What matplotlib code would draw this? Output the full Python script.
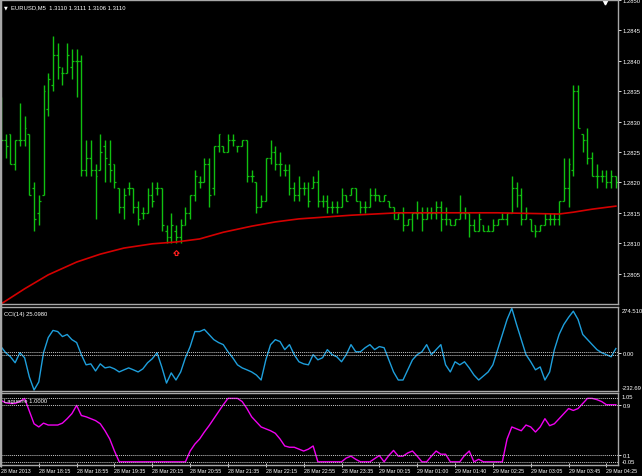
import matplotlib
matplotlib.use('Agg')
import matplotlib.pyplot as plt
from matplotlib.path import Path
import numpy as np

plt.rcParams['font.family'] = ['Liberation Sans', 'DejaVu Sans']

# ---- data (EURUSD M5, bar charts) ----
high = [1.2834, 1.2828, 1.2828, 1.2827, 1.2833, 1.2831, 1.2828, 1.2820, 1.2818, 1.2836,
        1.2838, 1.2844, 1.2843, 1.2839, 1.2843, 1.2842, 1.2842, 1.2841, 1.2827, 1.2827,
        1.2823, 1.2828, 1.2827, 1.2827, 1.2823, 1.2819, 1.2819, 1.2820, 1.2819, 1.2817,
        1.2816, 1.2819, 1.2820, 1.2820, 1.2819, 1.2813, 1.2815, 1.2813, 1.2814, 1.2816,
        1.2818, 1.2822, 1.2821, 1.2824, 1.2824, 1.2826, 1.2828, 1.2826, 1.2828, 1.2828,
        1.2826, 1.2827, 1.2827, 1.2822, 1.2820, 1.2818, 1.2824, 1.2827, 1.2826, 1.2825,
        1.2823, 1.2823, 1.2820, 1.2821, 1.2820, 1.2820, 1.2821, 1.2822, 1.2818, 1.2818,
        1.2817, 1.2817, 1.2819, 1.2818, 1.2819, 1.2819, 1.2817, 1.2817, 1.2819, 1.2819,
        1.2818, 1.2818, 1.2817, 1.2816, 1.2815, 1.2816, 1.2814, 1.2815, 1.2817, 1.2816,
        1.2816, 1.2816, 1.2817, 1.2817, 1.2816, 1.2814, 1.2814, 1.2818, 1.2816, 1.2815,
        1.2814, 1.2815, 1.2813, 1.2813, 1.2814, 1.2814, 1.2815, 1.2815, 1.2821, 1.2820,
        1.2819, 1.2816, 1.2814, 1.2813, 1.2813, 1.2815, 1.2815, 1.2815, 1.2817, 1.2824,
        1.2824, 1.2836, 1.2836, 1.2828, 1.2829, 1.2825, 1.2823, 1.2822, 1.2822, 1.2822,
        1.2821]
low = [1.2827, 1.2824, 1.2823, 1.2822, 1.2826, 1.2826, 1.2818, 1.2812, 1.2813, 1.2818,
       1.2831, 1.2835, 1.2837, 1.2836, 1.2838, 1.2837, 1.2834, 1.2821, 1.2821, 1.2821,
       1.2814, 1.2822, 1.2820, 1.2820, 1.2819, 1.2815, 1.2814, 1.2818, 1.2815, 1.2813,
       1.2814, 1.2815, 1.2816, 1.2818, 1.2812, 1.2810, 1.2810, 1.2810, 1.2810, 1.2813,
       1.2814, 1.2817, 1.2819, 1.2820, 1.2816, 1.2818, 1.2825, 1.2825, 1.2825, 1.2826,
       1.2825, 1.2826, 1.2820, 1.2820, 1.2815, 1.2816, 1.2817, 1.2823, 1.2822, 1.2821,
       1.2821, 1.2818, 1.2817, 1.2817, 1.2818, 1.2816, 1.2819, 1.2816, 1.2816, 1.2815,
       1.2815, 1.2815, 1.2816, 1.2817, 1.2818, 1.2817, 1.2815, 1.2815, 1.2816, 1.2817,
       1.2817, 1.2817, 1.2816, 1.2814, 1.2814, 1.2812, 1.2813, 1.2812, 1.2814, 1.2812,
       1.2814, 1.2814, 1.2814, 1.2812, 1.2813, 1.2813, 1.2813, 1.2814, 1.2814, 1.2811,
       1.2812, 1.2812, 1.2812, 1.2812, 1.2812, 1.2813, 1.2814, 1.2813, 1.2815, 1.2816,
       1.2813, 1.2814, 1.2812, 1.2811, 1.2812, 1.2813, 1.2813, 1.2813, 1.2813, 1.2817,
       1.2816, 1.2821, 1.2829, 1.2825, 1.2823, 1.2821, 1.2819, 1.2820, 1.2819, 1.2819,
       1.2819]
open_ = [1.2833, 1.2827, 1.2828, 1.2823, 1.2827, 1.2827, 1.2828, 1.2819, 1.2815, 1.2818,
         1.2832, 1.2836, 1.2841, 1.2838, 1.2838, 1.2839, 1.2840, 1.2840, 1.2822, 1.2824,
         1.2822, 1.2822, 1.2826, 1.2823, 1.2823, 1.2819, 1.2816, 1.2819, 1.2819, 1.2816,
         1.2815, 1.2815, 1.2818, 1.2819, 1.2819, 1.2812, 1.2811, 1.2812, 1.2811, 1.2813,
         1.2815, 1.2818, 1.2820, 1.2820, 1.2823, 1.2819, 1.2826, 1.2826, 1.2825, 1.2827,
         1.2826, 1.2826, 1.2827, 1.2821, 1.2820, 1.2816, 1.2817, 1.2824, 1.2825, 1.2823,
         1.2822, 1.2822, 1.2819, 1.2818, 1.2819, 1.2819, 1.2819, 1.2820, 1.2817, 1.2817,
         1.2816, 1.2816, 1.2816, 1.2818, 1.2818, 1.2819, 1.2817, 1.2816, 1.2816, 1.2818,
         1.2818, 1.2817, 1.2817, 1.2816, 1.2814, 1.2815, 1.2813, 1.2814, 1.2815, 1.2815,
         1.2814, 1.2815, 1.2815, 1.2816, 1.2814, 1.2814, 1.2813, 1.2814, 1.2815, 1.2815,
         1.2813, 1.2812, 1.2813, 1.2812, 1.2812, 1.2813, 1.2814, 1.2814, 1.2815, 1.2819,
         1.2818, 1.2814, 1.2814, 1.2813, 1.2812, 1.2813, 1.2814, 1.2814, 1.2814, 1.2817,
         1.2819, 1.2822, 1.2835, 1.2828, 1.2827, 1.2824, 1.2821, 1.2821, 1.2821, 1.2820,
         1.2821]
close = [1.2827, 1.2826, 1.2823, 1.2827, 1.2827, 1.2829, 1.2818, 1.2814, 1.2817, 1.2835,
         1.2837, 1.2841, 1.2839, 1.2838, 1.2841, 1.2840, 1.2840, 1.2822, 1.2824, 1.2822,
         1.2821, 1.2825, 1.2824, 1.2822, 1.2820, 1.2816, 1.2818, 1.2819, 1.2816, 1.2814,
         1.2815, 1.2818, 1.2817, 1.2819, 1.2813, 1.2811, 1.2813, 1.2811, 1.2813, 1.2815,
         1.2818, 1.2821, 1.2820, 1.2823, 1.2818, 1.2826, 1.2828, 1.2825, 1.2827, 1.2827,
         1.2826, 1.2827, 1.2821, 1.2821, 1.2816, 1.2817, 1.2824, 1.2825, 1.2823, 1.2823,
         1.2822, 1.2819, 1.2818, 1.2819, 1.2819, 1.2817, 1.2820, 1.2817, 1.2817, 1.2816,
         1.2816, 1.2816, 1.2818, 1.2817, 1.2819, 1.2817, 1.2816, 1.2816, 1.2818, 1.2818,
         1.2817, 1.2818, 1.2816, 1.2814, 1.2815, 1.2813, 1.2814, 1.2815, 1.2815, 1.2814,
         1.2815, 1.2815, 1.2816, 1.2814, 1.2814, 1.2813, 1.2814, 1.2815, 1.2815, 1.2813,
         1.2812, 1.2814, 1.2812, 1.2812, 1.2813, 1.2814, 1.2814, 1.2815, 1.2819, 1.2818,
         1.2814, 1.2815, 1.2812, 1.2812, 1.2813, 1.2814, 1.2814, 1.2814, 1.2817, 1.2819,
         1.2823, 1.2835, 1.2829, 1.2827, 1.2824, 1.2821, 1.2821, 1.2821, 1.2820, 1.2821,
         1.2820]

# moving average (red) read at some bars
ma_bar = [0, 5, 10, 16, 21, 26, 32, 37, 42, 47, 53, 58, 63, 74, 84, 105, 118, 121, 125, 130]
ma_val = [1.28000, 1.28025, 1.28048, 1.28069, 1.28082, 1.28092, 1.28099, 1.28102, 1.28107,
          1.28118, 1.28128, 1.28135, 1.28140, 1.28146, 1.28150, 1.28150, 1.28148, 1.28151,
          1.28156, 1.28161]

arrow_bar = 37
arrow_price = 1.2808

cci = [37, -1, -26, -63, -1, -32, -151, -232, -182, -1, 93, 137, 130, 99, 112, 80, 62, -13,
       -76, -70, -114, -70, -95, -89, -101, -120, -107, -95, -107, -120, -101, -63, -38, -1,
       -89, -189, -126, -170, -120, -32, 37, 130, 130, 143, 112, 80, 62, 49, 5, -32, -76,
       -95, -107, -120, -139, -170, -45, 49, 80, 68, 18, 49, -13, -57, -70, -76, -13, -45,
       -32, 18, -13, -26, -57, -13, 49, 5, 5, 30, 49, 18, 37, 30, -45, -120, -170, -170,
       -107, -45, -13, 5, 49, -13, 18, 49, -76, -120, -57, -76, -57, -95, -139, -170, -145,
       -120, -76, 18, 112, 205, 274, 174, 80, -13, -57, -107, -89, -170, -120, 18, 112, 174,
       218, 256, 205, 112, 80, 49, 18, -1, -13, -26, 25]
cci_levels = [5, -15]

laguerre = [0.97, 0.93, 0.92, 0.92, 0.95, 1.0, 0.8, 0.6, 0.55, 0.61, 0.58, 0.58, 0.58, 0.61,
            0.68, 0.76, 0.89, 0.73, 0.71, 0.68, 0.65, 0.6, 0.49, 0.36, 0.17, 0, 0, 0, 0, 0,
            0, 0, 0, 0, 0, 0, 0, 0, 0, 0, 0.17, 0.28, 0.36, 0.47, 0.57, 0.68, 0.79, 0.9, 1.0,
            1.0, 1.0, 0.95, 0.84, 0.71, 0.63, 0.55, 0.52, 0.49, 0.45, 0.36, 0.25, 0.23, 0.23,
            0.2, 0.17, 0.2, 0.25, 0, 0, 0, 0, 0, 0, 0.06, 0.09, 0.04, 0, 0, 0, 0.05, 0.1, 0,
            0.1, 0.18, 0.09, 0.09, 0.14, 0.17, 0.09, 0, 0, 0.09, 0.17, 0.12, 0.12, 0, 0, 0,
            0.1, 0.17, 0, 0.04, 0, 0, 0, 0, 0, 0.36, 0.55, 0.52, 0.49, 0.58, 0.55, 0.47, 0.55,
            0.68, 0.57, 0.6, 0.68, 0.76, 0.84, 0.81, 0.84, 0.92, 1.0, 1.0, 0.98, 0.95, 0.9,
            0.9, 0.9]
lag_levels = [1.0, 0.9, 0.1, 0.0]

time_bars = [0, 8, 16, 24, 32, 40, 48, 56, 64, 72, 80, 88, 96, 104, 112, 120, 128]
time_labels = ['28 Mar 2013', '28 Mar 18:15', '28 Mar 18:55', '28 Mar 19:35', '28 Mar 20:15',
               '28 Mar 20:55', '28 Mar 21:35', '28 Mar 22:15', '28 Mar 22:55', '28 Mar 23:35',
               '29 Mar 00:15', '29 Mar 01:00', '29 Mar 01:40', '29 Mar 02:25', '29 Mar 03:05',
               '29 Mar 03:45', '29 Mar 04:25']

price_ticks = [1.2805, 1.2810, 1.2815, 1.2820, 1.2825, 1.2830, 1.2835, 1.2840, 1.2845, 1.2850]

W, H = 642, 477
RIGHT = 618
fig = plt.figure(figsize=(W / 100, H / 100), dpi=100, facecolor='black')

def panel(top, bottom):
    ax = fig.add_axes([0.0, 1 - bottom / H, RIGHT / W, (bottom - top) / H])
    ax.set_facecolor('black')
    for s in ax.spines.values():
        s.set_color('#a8a8a8')
        s.set_linewidth(1)
    ax.spines['left'].set_linewidth(2.5)
    ax.yaxis.tick_right()
    ax.tick_params(axis='y', colors='white', labelsize=4.2, length=2, width=0.6, pad=1.5)
    ax.tick_params(axis='x', bottom=False, labelbottom=False)
    ax.set_xlim(-0.2, 130.45)
    return ax

def edge_label(ax, s, top):
    ax.text(1.006, 0.99 if top else 0.01, s, transform=ax.transAxes, color='white',
            fontsize=4.2, va='top' if top else 'bottom', ha='left', clip_on=False)

green = '#10c010'
x = np.arange(len(high))

#main price panel###############################
ax = panel(1, 305)
ax.vlines(x, low, high, color=green, lw=1)
ax.hlines(open_, x - 0.4, x, color=green, lw=0.9)
ax.hlines(close, x, x + 0.4, color=green, lw=0.9)
ax.plot(ma_bar, ma_val, color='#d40000', lw=1.2)
up_arrow = Path([(-0.3, 0), (0.3, 0), (0.3, 0.5), (0.6, 0.5), (0, 1.1), (-0.6, 0.5), (-0.3, 0.5), (-0.3, 0)])
ax.plot(arrow_bar, arrow_price, marker=up_arrow, ms=7, mfc='none', mec='#ff2020', mew=0.8)
ax.set_ylim(1.2800, 1.2850)
ax.set_yticks(price_ticks)
ax.set_yticklabels(['%.4f' % p for p in price_ticks])
ax.text(0.006, 0.985, '\u25bc', transform=ax.transAxes, color='white', fontsize=3.5, va='top', family='DejaVu Sans')
ax.text(0.018, 0.986, 'EURUSD,M5  1.3110 1.3111 1.3106 1.3110', transform=ax.transAxes,
        color='white', fontsize=4.2, va='top')
ax.plot([0.979], [0.993], marker='v', ms=3.5, color='white', transform=ax.transAxes, clip_on=False)

#CCI panel######################################
ax2 = panel(308, 392)
ax2.plot(x, cci, color='#1e9fdc', lw=1)
for lv in cci_levels:
    ax2.axhline(lv, color='#c8c8c8', lw=0.7, ls=(0, (1, 1)))
ax2.set_ylim(-238, 282)
ax2.set_yticks([0])
ax2.set_yticklabels(['0.00'])
edge_label(ax2, '274.5109', True)
edge_label(ax2, '-232.69', False)
ax2.text(0.006, 0.95, 'CCI(14) 25.0980', transform=ax2.transAxes, color='white', fontsize=4.2, va='top')

#Laguerre panel#################################
ax3 = panel(394, 466)
ax3.plot(x, laguerre, color='#f000f0', lw=1)
for lv in lag_levels:
    ax3.axhline(lv, color='#c8c8c8', lw=0.7, ls=(0, (1, 1)))
ax3.set_ylim(-0.05, 1.085)
ax3.set_yticks([0.1, 0.9])
ax3.set_yticklabels(['0.1', '0.9'])
edge_label(ax3, '1.05', True)
edge_label(ax3, '-0.05', False)
ax3.text(0.006, 0.93, 'Laguerre 1.0000', transform=ax3.transAxes, color='white', fontsize=4.2, va='top')

# time axis
ax3.set_xticks(time_bars)
ax3.set_xticklabels(time_labels)
ax3.tick_params(axis='x', bottom=True, labelbottom=True, colors='white', labelsize=3.8,
                length=3, width=0.6, pad=1, direction='inout')
for lab in ax3.get_xticklabels():
    lab.set_horizontalalignment('left')

fig.savefig('out.png', dpi=100, facecolor='black')
